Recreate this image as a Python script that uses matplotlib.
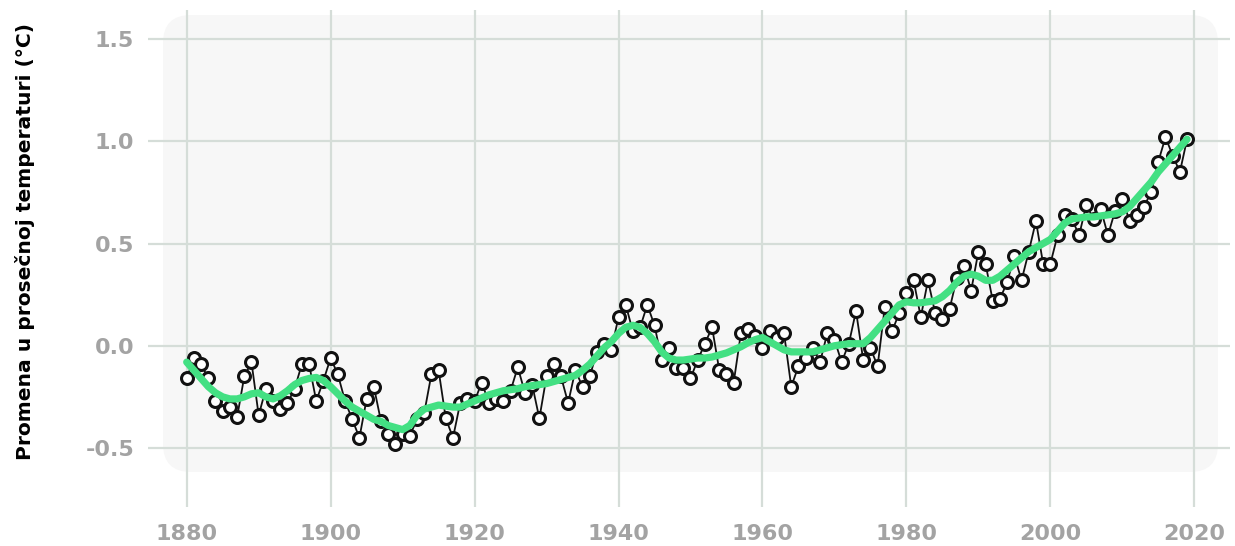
import matplotlib
matplotlib.use("Agg")
import matplotlib.pyplot as plt
from matplotlib.patches import FancyBboxPatch
from matplotlib.transforms import IdentityTransform

years = list(range(1880, 2020))

annual = [
    -0.16, -0.06, -0.09, -0.16, -0.27, -0.32, -0.30, -0.35, -0.15, -0.08,
    -0.34, -0.21, -0.27, -0.31, -0.28, -0.21, -0.09, -0.09, -0.27, -0.17,
    -0.06, -0.14, -0.27, -0.36, -0.45, -0.26, -0.20, -0.37, -0.43, -0.48,
    -0.43, -0.44, -0.36, -0.33, -0.14, -0.12, -0.355, -0.45, -0.28, -0.26,
    -0.27, -0.18, -0.28, -0.26, -0.27, -0.22, -0.105, -0.23, -0.19, -0.355,
    -0.15, -0.09, -0.15, -0.28, -0.12, -0.20, -0.15, -0.03, 0.01, -0.02,
    0.14, 0.20, 0.07, 0.09, 0.20, 0.10, -0.07, -0.01, -0.11, -0.11,
    -0.16, -0.07, 0.01, 0.09, -0.12, -0.14, -0.18, 0.06, 0.08, 0.05,
    -0.01, 0.07, 0.04, 0.06, -0.20, -0.10, -0.06, -0.01, -0.08, 0.06,
    0.03, -0.08, 0.01, 0.17, -0.07, -0.01, -0.10, 0.19, 0.07, 0.16,
    0.26, 0.32, 0.14, 0.32, 0.16, 0.13, 0.18, 0.33, 0.39, 0.27,
    0.46, 0.40, 0.22, 0.23, 0.31, 0.44, 0.32, 0.46, 0.61, 0.40,
    0.40, 0.54, 0.64, 0.62, 0.54, 0.69, 0.62, 0.67, 0.54, 0.66,
    0.72, 0.61, 0.64, 0.68, 0.75, 0.90, 1.02, 0.93, 0.85, 1.01,
]

smoothed = [
    -0.08, -0.12, -0.16, -0.20, -0.23, -0.25, -0.26, -0.26, -0.25, -0.235,
    -0.23, -0.25, -0.26, -0.245, -0.22, -0.19, -0.17, -0.16, -0.155, -0.17,
    -0.20, -0.235, -0.27, -0.30, -0.32, -0.34, -0.36, -0.37, -0.39, -0.40,
    -0.41, -0.39, -0.34, -0.31, -0.30, -0.29, -0.295, -0.30, -0.30, -0.285,
    -0.27, -0.255, -0.24, -0.23, -0.22, -0.215, -0.21, -0.20, -0.195, -0.19,
    -0.185, -0.175, -0.165, -0.155, -0.145, -0.12, -0.09, -0.05, -0.01, 0.02,
    0.06, 0.09, 0.10, 0.09, 0.06, 0.02, -0.03, -0.06, -0.07, -0.07,
    -0.065, -0.06, -0.06, -0.055, -0.045, -0.035, -0.02, -0.005, 0.015, 0.03,
    0.04, 0.02, 0.00, -0.02, -0.03, -0.03, -0.03, -0.03, -0.02, -0.01,
    0.00, 0.005, 0.01, 0.01, 0.01, 0.04, 0.08, 0.12, 0.16, 0.20,
    0.215, 0.21, 0.21, 0.215, 0.22, 0.24, 0.27, 0.31, 0.34, 0.35,
    0.34, 0.32, 0.32, 0.34, 0.37, 0.40, 0.43, 0.46, 0.48, 0.50,
    0.52, 0.56, 0.60, 0.62, 0.625, 0.63, 0.63, 0.635, 0.64, 0.645,
    0.655, 0.68, 0.72, 0.76, 0.80, 0.85, 0.89, 0.93, 0.97, 1.01,
]

x_ticks = [1880, 1900, 1920, 1940, 1960, 1980, 2000, 2020]
y_ticks = [-0.5, 0.0, 0.5, 1.0, 1.5]
y_label = "Promena u prosečnoj temperaturi (°C)"

W, H = 1235, 546
fig = plt.figure(figsize=(W / 100, H / 100), dpi=100)
fig.patch.set_facecolor("white")

# light rounded background panel (pixel coordinates)
bg = FancyBboxPatch((163, H - 472), 1218 - 163, 472 - 15,
                    boxstyle="round,pad=0,rounding_size=28",
                    transform=IdentityTransform(),
                    facecolor="#f7f7f7", edgecolor="none", zorder=-5)
fig.add_artist(bg)

left, right, top, bottom = 148, 1230, 10, 507
ax = fig.add_axes([left / W, (H - bottom) / H, (right - left) / W, (bottom - top) / H])
ax.set_facecolor("none")

px_per_year = 7.197
x0px = 186.7
ax.set_xlim(1880 + (left - x0px) / px_per_year, 1880 + (right - x0px) / px_per_year)
px_per_unit = 204.5
y0px = 345.75
ax.set_ylim((y0px - bottom) / px_per_unit, (y0px - top) / px_per_unit)

ax.set_xticks(x_ticks)
ax.set_yticks(y_ticks)
ax.set_yticklabels([f"{v:.1f}" for v in y_ticks])
ax.grid(True, color="#d5ddd8", linewidth=1.6)
ax.set_axisbelow(True)
for s in ax.spines.values():
    s.set_visible(False)
ax.tick_params(axis="both", length=0, labelsize=16, labelcolor="#a3a3a3")
ax.tick_params(axis="x", pad=12)
ax.tick_params(axis="y", pad=10)
for lab in ax.get_xticklabels() + ax.get_yticklabels():
    lab.set_fontweight("bold")

ax.plot(years, annual, color="#111111", linewidth=1.3, marker="o",
        markersize=8.6, markerfacecolor="white", markeredgecolor="#111111",
        markeredgewidth=2.2, zorder=3, clip_on=False)
ax.plot(years, smoothed, color="#43e083", linewidth=5.2, solid_capstyle="round",
        solid_joinstyle="round", zorder=4, clip_on=False)

fig.text(25 / W, 1 - 242 / H, y_label, rotation=90, ha="center", va="center",
         fontsize=14.6, fontweight="bold", color="black")

fig.savefig("out.png", dpi=100)
